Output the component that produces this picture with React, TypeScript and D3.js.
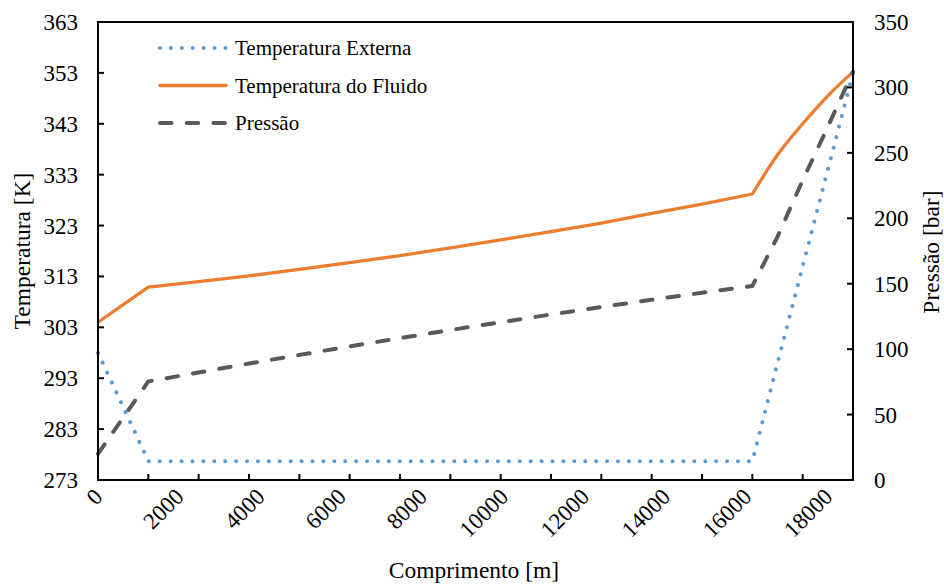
import React from 'react';
import * as d3 from 'd3';

// Distance along the line [m]
const distance = [0, 1241, 2482, 3724, 4965, 6206, 7447, 8689, 9930, 11171, 12412, 13653, 14895, 16136, 16757, 17377, 17998, 18618];
// External temperature [K]
const externalTemp = [298.0, 276.7, 276.7, 276.7, 276.7, 276.7, 276.7, 276.7, 276.7, 276.7, 276.7, 276.7, 276.7, 276.7, 296.0, 315.0, 334.0, 353.0];
// Fluid temperature [K]
const fluidTemp = [304.0, 310.9, 312.0, 313.1, 314.4, 315.7, 317.1, 318.6, 320.2, 321.8, 323.5, 325.4, 327.2, 329.2, 336.9, 343.0, 348.5, 353.2];
// Pressure [bar]
const pressure = [20.0, 75.3, 82.2, 89.0, 95.6, 102.1, 108.4, 114.6, 120.6, 126.5, 132.2, 137.7, 143.1, 148.3, 186.0, 229.0, 270.0, 312.0];

// Axis ticks
const segmentMarks = [0, 1241, 2482, 3724, 4965, 6206, 7447, 8689, 9930, 11171, 12412, 13653, 14895, 16136, 17377, 18618];
const distanceLabels = [0, 2000, 4000, 6000, 8000, 10000, 12000, 14000, 16000, 18000];
const tempTicks = [273, 283, 293, 303, 313, 323, 333, 343, 353, 363];
const pressureTicks = [0, 50, 100, 150, 200, 250, 300, 350];

const legendItems = [
  { label: 'Temperatura Externa', key: 'ext' },
  { label: 'Temperatura do Fluido', key: 'fluid' },
  { label: 'Pressão', key: 'press' },
];

const W = 944;
const H = 586;
const left = 98;
const right = 853;
const top = 22;
const bottom = 480;
const font = "'Liberation Serif', 'DejaVu Serif', serif";

const styles: Record<string, { stroke: string; width: number; dash: string }> = {
  ext: { stroke: '#5B9BD5', width: 4, dash: '0.01 10.9' },
  fluid: { stroke: '#ED7D31', width: 3.3, dash: '' },
  press: { stroke: '#595959', width: 4, dash: '11.5 15.2' },
};

// index where the fluid temperature curve turns into the riser section
const bendIndex = 13;

export default function App() {
  const x = d3.scaleLinear().domain([0, 18618]).range([left, right]);
  const yT = d3.scaleLinear().domain([273, 363]).range([bottom, top]);
  const yP = d3.scaleLinear().domain([0, 350]).range([bottom, top]);

  const pts = (vals: number[], y: (v: number) => number) =>
    vals.map((v, i) => [x(distance[i]), y(v)] as [number, number]);

  const linear = d3.line();
  const smooth = d3.line().curve(d3.curveMonotoneX);

  const fluidPts = pts(fluidTemp, yT);
  const fluidPath =
    (linear(fluidPts.slice(0, bendIndex + 1)) || '') + (smooth(fluidPts.slice(bendIndex)) || '').replace(/^M/, 'L');

  const tick = 6;
  const txt = { fontFamily: font, fill: '#000' } as const;

  return (
    <svg width={W} height={H} style={{ position: 'absolute', left: 0, top: 0, background: '#fff', fontFamily: font }}>
      <rect x={0} y={0} width={W} height={H} fill="#fff" />

      {/* series */}
      <path d={fluidPath} fill="none" stroke={styles.fluid.stroke} strokeWidth={styles.fluid.width} strokeLinejoin="round" />
      <path
        d={linear(pts(pressure, yP)) || ''}
        fill="none"
        stroke={styles.press.stroke}
        strokeWidth={styles.press.width}
        strokeDasharray={styles.press.dash}
        strokeLinecap="round"
        strokeLinejoin="round"
      />
      <path
        d={linear(pts(externalTemp, yT)) || ''}
        fill="none"
        stroke={styles.ext.stroke}
        strokeWidth={styles.ext.width}
        strokeDasharray={styles.ext.dash}
        strokeLinecap="round"
        strokeLinejoin="round"
      />

      {/* frame */}
      <rect x={left} y={top} width={right - left} height={bottom - top} fill="none" stroke="#000" strokeWidth={2} />

      {/* left axis */}
      {tempTicks.map((t) => (
        <g key={'t' + t}>
          <line x1={left} x2={left + tick} y1={yT(t)} y2={yT(t)} stroke="#000" strokeWidth={2} />
          <text x={78} y={yT(t) + 8} textAnchor="end" fontSize={23} style={txt}>
            {t}
          </text>
        </g>
      ))}

      {/* right axis */}
      {pressureTicks.map((p) => (
        <g key={'p' + p}>
          <line x1={right - tick} x2={right} y1={yP(p)} y2={yP(p)} stroke="#000" strokeWidth={2} />
          <text x={874} y={yP(p) + 8} textAnchor="start" fontSize={23} style={txt}>
            {p}
          </text>
        </g>
      ))}

      {/* bottom axis */}
      {segmentMarks.map((m) => (
        <line key={'m' + m} x1={x(m)} x2={x(m)} y1={bottom} y2={bottom - tick} stroke="#000" strokeWidth={2} />
      ))}
      {distanceLabels.map((d) => (
        <text
          key={'d' + d}
          transform={`translate(${x(d) + 6},${bottom + 18}) rotate(-45)`}
          textAnchor="end"
          fontSize={23}
          style={txt}
        >
          {d}
        </text>
      ))}

      {/* axis titles */}
      <text x={474} y={578} textAnchor="middle" fontSize={23.5} style={txt}>
        Comprimento [m]
      </text>
      <text transform={`translate(30,251) rotate(-90)`} textAnchor="middle" fontSize={23.5} style={txt}>
        Temperatura [K]
      </text>
      <text transform={`translate(939,252) rotate(-90)`} textAnchor="middle" fontSize={23.5} style={txt}>
        Pressão [bar]
      </text>

      {/* legend */}
      {legendItems.map((item, i) => {
        const s = styles[item.key];
        const cy = 48 + i * 37.5;
        return (
          <g key={item.key}>
            <line
              x1={160}
              x2={226}
              y1={cy}
              y2={cy}
              stroke={s.stroke}
              strokeWidth={s.width}
              strokeDasharray={s.dash}
              strokeLinecap="round"
            />
            <text x={235} y={cy + 7} fontSize={21} style={txt}>
              {item.label}
            </text>
          </g>
        );
      })}
    </svg>
  );
}
